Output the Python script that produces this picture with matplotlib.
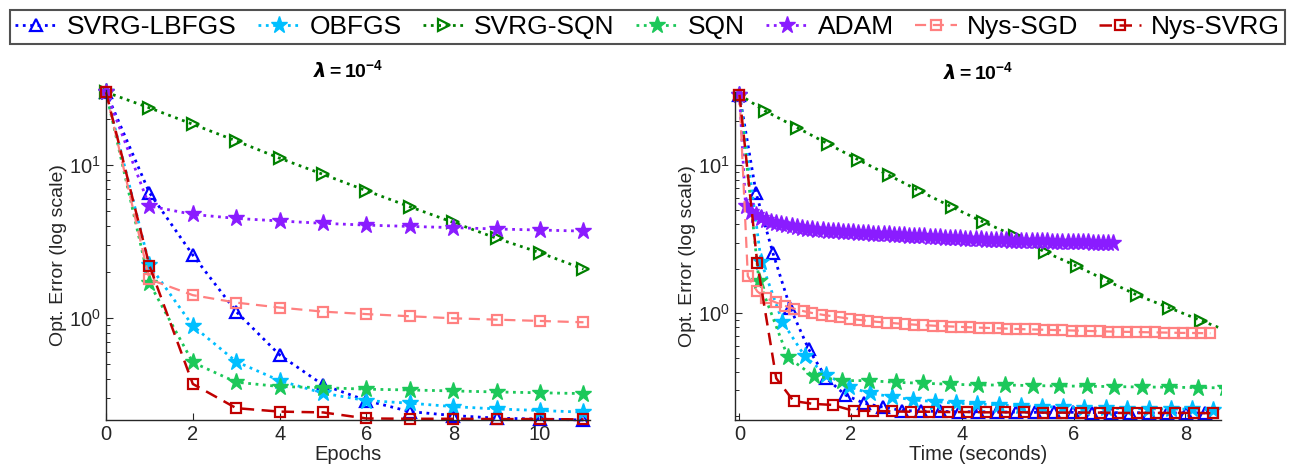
import matplotlib
matplotlib.use("Agg")
import matplotlib.pyplot as plt
from matplotlib.lines import Line2D

plt.rcParams['font.family'] = ['Liberation Sans', 'DejaVu Sans']
plt.rcParams['mathtext.fontset'] = 'custom'
plt.rcParams['mathtext.rm'] = 'Liberation Sans'
plt.rcParams['mathtext.it'] = 'Liberation Sans:italic'
plt.rcParams['mathtext.bf'] = 'Liberation Sans:bold'

# ---------------- data: left panel (epochs) ----------------
epochs = [0, 1, 2, 3, 4, 5, 6, 7, 8, 9, 10, 11]
lbfgs_L = [30, 6.6, 2.58, 1.10, 0.573, 0.365, 0.288, 0.244, 0.230, 0.221, 0.218, 0.215]
obfgs_L = [30, 2.22, 0.887, 0.518, 0.389, 0.322, 0.288, 0.277, 0.263, 0.254, 0.248, 0.242]
svrgsqn_L = [30, 23.7, 18.5, 14.4, 11.1, 8.7, 6.8, 5.34, 4.22, 3.32, 2.67, 2.09]
sqn_L = [30, 1.69, 0.512, 0.38, 0.356, 0.35, 0.342, 0.338, 0.333, 0.328, 0.324, 0.32]
adam_L = [30, 5.4, 4.76, 4.48, 4.31, 4.16, 4.05, 3.97, 3.90, 3.82, 3.76, 3.70]
nyssgd_L = [30, 1.79, 1.41, 1.26, 1.17, 1.10, 1.06, 1.026, 0.995, 0.975, 0.956, 0.937]
nyssvrg_L = [30, 2.2, 0.37, 0.257, 0.244, 0.241, 0.22, 0.219, 0.219, 0.218, 0.218, 0.217]

# ---------------- data: right panel (time) ----------------
lbfgs_R_t = [0, 0.30, 0.60, 0.91, 1.24, 1.56, 1.90, 2.24, 2.58, 2.92, 3.26, 3.60, 3.94,
             4.28, 4.62, 4.96, 5.30, 5.64, 5.98, 6.32, 6.66, 7.00, 7.34, 7.68, 8.02, 8.35]
lbfgs_R_v = [30, 6.44, 2.55, 1.09, 0.571, 0.362, 0.279, 0.245, 0.231, 0.219, 0.217, 0.216, 0.215,
             0.215, 0.214, 0.214, 0.213, 0.213, 0.213, 0.212, 0.212, 0.212, 0.211, 0.211, 0.211, 0.211]

obfgs_R_t = [0, 0.39, 0.77, 1.17, 1.56, 1.96, 2.34, 2.74, 3.12, 3.50, 3.88, 4.27, 4.66,
             5.05, 5.43, 5.81, 6.19, 6.57, 6.96, 7.35, 7.74, 8.12, 8.50]
obfgs_R_v = [30, 2.22, 0.874, 0.512, 0.381, 0.318, 0.286, 0.272, 0.258, 0.252, 0.245, 0.243, 0.239,
             0.236, 0.233, 0.231, 0.229, 0.227, 0.226, 0.225, 0.224, 0.224, 0.222]

svrgsqn_R_t = [0, 0.46, 1.03, 1.58, 2.13, 2.68, 3.23, 3.81, 4.37, 4.95, 5.48, 6.05, 6.60,
               7.14, 7.71, 8.29, 8.86]
svrgsqn_R_v = [30, 23.3, 18.0, 14.0, 10.9, 8.56, 6.7, 5.22, 4.14, 3.31, 2.59, 2.08, 1.65,
               1.32, 1.086, 0.887, 0.73]

sqn_R_t = [0, 0.35, 0.87, 1.33, 1.84, 2.32, 2.80, 3.29, 3.78, 4.28, 4.77, 5.26, 5.74,
           6.23, 6.72, 7.22, 7.71, 8.23, 8.72]
sqn_R_v = [30, 1.65, 0.502, 0.375, 0.349, 0.349, 0.34, 0.335, 0.33, 0.326, 0.326, 0.323, 0.321,
           0.32, 0.318, 0.316, 0.315, 0.313, 0.312]

adam_R_t = [0, 0.11, 0.20, 0.29, 0.39, 0.48, 0.57, 0.66, 0.75, 0.84, 0.94, 1.03, 1.12, 1.21,
            1.30, 1.39, 1.49, 1.58, 1.67, 1.76, 1.85, 1.94, 2.04, 2.13, 2.22, 2.31, 2.40,
            2.49, 2.59, 2.68, 2.77, 2.86, 2.95, 3.04, 3.14, 3.23, 3.32, 3.41, 3.50, 3.59,
            3.69, 3.78, 3.87, 3.96, 4.05, 4.14, 4.24, 4.33, 4.42, 4.51, 4.60, 4.69, 4.79,
            4.88, 4.97, 5.06, 5.15, 5.24, 5.34, 5.43, 5.52, 5.61, 5.70, 5.79, 5.89, 5.98,
            6.07, 6.16, 6.25, 6.34, 6.44, 6.53, 6.62, 6.71]
adam_R_v = [30, 5.31, 4.85, 4.60, 4.40, 4.26, 4.16, 4.07, 4.00, 3.93, 3.87, 3.82, 3.77, 3.72,
            3.69, 3.66, 3.63, 3.61, 3.59, 3.57, 3.55, 3.53, 3.51, 3.49, 3.47, 3.46, 3.44,
            3.43, 3.42, 3.40, 3.39, 3.37, 3.36, 3.34, 3.33, 3.31, 3.30, 3.29, 3.27, 3.26,
            3.24, 3.23, 3.21, 3.20, 3.19, 3.18, 3.16, 3.15, 3.14, 3.13, 3.12, 3.11, 3.10,
            3.09, 3.08, 3.08, 3.07, 3.07, 3.06, 3.05, 3.05, 3.04, 3.04, 3.03, 3.03, 3.02,
            3.02, 3.01, 3.01, 3.00, 2.99, 2.99, 2.98, 2.98]

nyssgd_R_t = [0, 0.15, 0.32, 0.48, 0.65, 0.81, 0.98, 1.15, 1.31, 1.48, 1.64, 1.81, 1.98,
              2.14, 2.31, 2.47, 2.64, 2.81, 2.97, 3.14, 3.30, 3.47, 3.64, 3.80, 3.97, 4.13,
              4.30, 4.47, 4.63, 4.80, 4.96, 5.13, 5.30, 5.46, 5.63, 5.79, 5.96, 6.13, 6.29,
              6.46, 6.62, 6.79, 6.96, 7.12, 7.29, 7.45, 7.62, 7.79, 7.95, 8.12, 8.28, 8.45]
nyssgd_R_v = [30, 1.78, 1.40, 1.26, 1.18, 1.12, 1.07, 1.03, 1.00, 0.975, 0.955, 0.935, 0.915,
              0.90, 0.885, 0.872, 0.862, 0.852, 0.843, 0.835, 0.828, 0.822, 0.816, 0.811, 0.806,
              0.801, 0.797, 0.793, 0.789, 0.785, 0.781, 0.777, 0.774, 0.771, 0.768, 0.765,
              0.762, 0.759, 0.756, 0.753, 0.750, 0.748, 0.746, 0.744, 0.742, 0.740, 0.738,
              0.736, 0.734, 0.733, 0.732, 0.730]

nyssvrg_R_t = [0, 0.32, 0.66, 0.97, 1.32, 1.67, 2.05, 2.39, 2.73, 3.07, 3.40, 3.74, 4.08,
               4.42, 4.76, 5.10, 5.44, 5.78, 6.12, 6.46, 6.80, 7.14, 7.48, 7.82, 8.16, 8.50]
nyssvrg_R_v = [30, 2.17, 0.362, 0.254, 0.243, 0.239, 0.218, 0.218, 0.216, 0.215, 0.215, 0.214,
               0.214, 0.213, 0.213, 0.213, 0.212, 0.212, 0.212, 0.212, 0.211, 0.211, 0.211,
               0.211, 0.211, 0.210]

labels = ['SVRG-LBFGS', 'OBFGS', 'SVRG-SQN', 'SQN', 'ADAM', 'Nys-SGD', 'Nys-SVRG']
x_ticks_L = [0, 2, 4, 6, 8, 10]
x_ticks_R = [0, 2, 4, 6, 8]
title_text = r'$\mathbfit{\lambda}\mathbf{=10^{-4}}$'

styles = [
    dict(color='#0000ff', ls=':', marker='^', ms=9, mfc='none', mew=1.6, lw=2.0),
    dict(color='#00bfff', ls=':', marker='*', ms=12.5, mfc='#00bfff', mew=1.0, lw=2.0),
    dict(color='#008000', ls=':', marker='>', ms=9, mfc='none', mew=1.6, lw=2.0),
    dict(color='#1cc85a', ls=':', marker='*', ms=12.5, mfc='#1cc85a', mew=1.0, lw=2.0),
    dict(color='#8a1cff', ls=':', marker='*', ms=12.5, mfc='#8a1cff', mew=1.0, lw=2.0),
    dict(color='#ff8080', ls=(0, (5, 3)), marker='s', ms=7, mfc='none', mew=1.6, lw=1.6),
    dict(color='#c00000', ls=(0, (5, 3)), marker='s', ms=7, mfc='none', mew=1.6, lw=1.8),
]

W, H = 1289, 473
fig = plt.figure(figsize=(W / 100, H / 100), dpi=100)
axL = fig.add_axes([106 / W, 1 - 420 / H, (590 - 106) / W, (420 - 90) / H])
axR = fig.add_axes([735 / W, 1 - 420 / H, (1221 - 735) / W, (420 - 92) / H])

left_series = [lbfgs_L, obfgs_L, svrgsqn_L, sqn_L, adam_L, nyssgd_L, nyssvrg_L]
for y, st in zip(left_series, styles):
    axL.plot(epochs, y, clip_on=False, **st)

right_series = [(lbfgs_R_t, lbfgs_R_v), (obfgs_R_t, obfgs_R_v), (svrgsqn_R_t, svrgsqn_R_v),
                (sqn_R_t, sqn_R_v), (adam_R_t, adam_R_v), (nyssgd_R_t, nyssgd_R_v),
                (nyssvrg_R_t, nyssvrg_R_v)]
for (t, y), st in zip(right_series, styles):
    clip = max(t) > 8.64
    axR.plot(t, y, clip_on=clip, **st)

axL.set_xlim(0, 11.15)
axL.set_ylim(0.215, 31)
axR.set_xlim(-0.08, 8.64)
axR.set_ylim(0.189, 31.3)

for ax, xt, xl in [(axL, x_ticks_L, 'Epochs'), (axR, x_ticks_R, 'Time (seconds)')]:
    ax.set_yscale('log')
    ax.set_xticks(xt)
    ax.set_xticklabels([str(v) for v in xt])
    for s in ['top', 'right']:
        ax.spines[s].set_visible(False)
    for s in ['left', 'bottom']:
        ax.spines[s].set_color('#262626')
        ax.spines[s].set_linewidth(1.0)
    ax.tick_params(which='both', direction='in', colors='#262626', labelsize=14.5,
                   top=False, right=False)
    ax.tick_params(which='major', length=5, width=0.8)
    ax.tick_params(which='minor', length=3, width=0.7)
    ax.set_xlabel(xl, fontsize=14.5, color='#262626', labelpad=1)
    ax.set_ylabel('Opt. Error (log scale)', fontsize=14, color='#262626', labelpad=2)
    ax.set_title(title_text, fontsize=14, pad=9)

handles = [Line2D([], [], **st) for st in styles]
leg = fig.legend(handles, labels, loc='center', ncol=7,
                 bbox_to_anchor=(10 / W, 1 - 46 / H, 1275 / W, 38 / H), mode='expand',
                 fontsize=19, frameon=True, fancybox=False, numpoints=1,
                 handlelength=1.6, handletextpad=0.35, columnspacing=0.6,
                 borderpad=0.2, borderaxespad=0)
leg.get_frame().set_edgecolor('#262626')
leg.get_frame().set_linewidth(1.5)

fig.savefig('out.png', dpi=100)
